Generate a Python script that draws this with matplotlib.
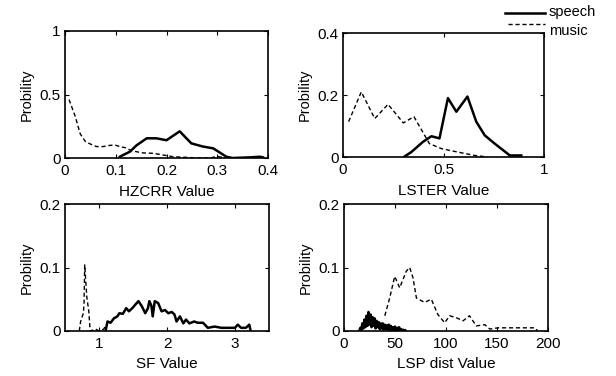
import matplotlib
matplotlib.use("Agg")
import matplotlib.pyplot as plt
from matplotlib.lines import Line2D

plt.rcParams['font.family'] = ['Liberation Sans', 'DejaVu Sans']
plt.rcParams['font.size'] = 11

# ---------------- data ----------------
# HZCRR
hz_music_x = [0.008, 0.02, 0.03, 0.04, 0.05, 0.062, 0.075, 0.089, 0.1, 0.108, 0.12, 0.128, 0.14, 0.154, 0.174, 0.193, 0.213, 0.24, 0.26, 0.285, 0.3, 0.32]
hz_music_y = [0.46, 0.33, 0.19, 0.13, 0.11, 0.09, 0.09, 0.10, 0.10, 0.09, 0.08, 0.063, 0.05, 0.04, 0.037, 0.024, 0.01, 0.005, 0.0, 0.0, 0.012, 0.0]
hz_speech_x = [0.108, 0.128, 0.141, 0.161, 0.18, 0.2, 0.226, 0.249, 0.272, 0.292, 0.318, 0.33, 0.364, 0.384, 0.39]
hz_speech_y = [0.01, 0.05, 0.10, 0.155, 0.155, 0.14, 0.21, 0.115, 0.09, 0.076, 0.01, 0.0, 0.005, 0.01, 0.005]

# LSTER
ls_music_x = [0.028, 0.091, 0.158, 0.224, 0.30, 0.353, 0.43, 0.49, 0.57, 0.655, 0.72]
ls_music_y = [0.114, 0.21, 0.124, 0.17, 0.11, 0.13, 0.043, 0.027, 0.016, 0.005, 0.0]
ls_speech_x = [0.307, 0.34, 0.398, 0.44, 0.48, 0.522, 0.564, 0.619, 0.663, 0.705, 0.755, 0.83, 0.887]
ls_speech_y = [0.002, 0.016, 0.049, 0.067, 0.06, 0.19, 0.146, 0.195, 0.114, 0.07, 0.043, 0.005, 0.005]

# SF
sf_music_x = [0.71, 0.73, 0.77, 0.78, 0.79, 0.82, 0.85, 0.87, 0.95, 1.0, 1.07, 1.09]
sf_music_y = [0.0, 0.015, 0.028, 0.044, 0.104, 0.054, 0.031, 0.0, 0.003, 0.0, 0.003, 0.007]
sf_speech_x = [1.1, 1.125, 1.17, 1.22, 1.27, 1.3, 1.35, 1.4, 1.44, 1.49, 1.53, 1.58, 1.63, 1.68, 1.72,
               1.74, 1.77, 1.79, 1.82, 1.87, 1.92, 1.97, 2.02, 2.07, 2.11, 2.14, 2.19, 2.24, 2.28, 2.33,
               2.4, 2.45, 2.53, 2.6, 2.7, 2.8, 2.9, 3.0, 3.04, 3.09, 3.16, 3.21, 3.23]
sf_speech_y = [0.002, 0.015, 0.013, 0.02, 0.023, 0.028, 0.027, 0.036, 0.031, 0.036, 0.041, 0.047, 0.039, 0.028, 0.036,
               0.047, 0.04, 0.023, 0.047, 0.044, 0.031, 0.033, 0.028, 0.03, 0.026, 0.015, 0.023, 0.012, 0.018, 0.012,
               0.015, 0.013, 0.013, 0.005, 0.007, 0.005, 0.005, 0.005, 0.01, 0.005, 0.005, 0.01, 0.0]

# LSP dist
lsp_music_x = [40, 44.8, 49.7, 54.6, 61, 64.4, 67.6, 71, 79, 85.6, 92, 98.7, 103.6, 110, 116.7, 123, 129.7, 138, 143, 151, 161, 174, 187, 190]
lsp_music_y = [0.024, 0.052, 0.086, 0.068, 0.094, 0.10, 0.084, 0.052, 0.045, 0.05, 0.026, 0.013, 0.024, 0.021, 0.016, 0.024, 0.008, 0.01, 0.003, 0.005, 0.005, 0.005, 0.005, 0.0]
lsp_speech_x = [15, 16, 17, 18, 19, 20, 21, 22, 23, 24, 25, 26, 27, 28, 29, 30, 31, 32, 33, 34, 35, 36, 37, 38, 39,
                40, 41, 42, 43, 44, 45, 46, 47, 48, 49, 50, 51, 52, 53, 54, 55, 56, 57, 58, 59, 60]
lsp_speech_y = [0.0, 0.005, 0.002, 0.012, 0.004, 0.018, 0.006, 0.024, 0.008, 0.03, 0.01, 0.026, 0.006, 0.022, 0.008,
                0.02, 0.004, 0.016, 0.006, 0.014, 0.003, 0.012, 0.004, 0.012, 0.002, 0.01, 0.003, 0.009, 0.002, 0.01,
                0.002, 0.008, 0.001, 0.006, 0.002, 0.007, 0.001, 0.005, 0.001, 0.006, 0.001, 0.003, 0.0, 0.002, 0.0, 0.001]

panels = [
    dict(rect=[65/616, 1-158/376, 203/616, 127/376], mx=hz_music_x, my=hz_music_y, sx=hz_speech_x, sy=hz_speech_y,
         xlim=(0, 0.4), ylim=(0, 1), xt=[0, 0.1, 0.2, 0.3, 0.4], xtl=['0', '0.1', '0.2', '0.3', '0.4'],
         yt=[0, 0.5, 1], ytl=['0', '0.5', '1'], xl='HZCRR Value'),
    dict(rect=[343/616, 1-157/376, 201/616, 124/376], mx=ls_music_x, my=ls_music_y, sx=ls_speech_x, sy=ls_speech_y,
         xlim=(0, 1), ylim=(0, 0.4), xt=[0, 0.5, 1], xtl=['0', '0.5', '1'],
         yt=[0, 0.2, 0.4], ytl=['0', '0.2', '0.4'], xl='LSTER Value'),
    dict(rect=[65/616, 1-331/376, 204/616, 127/376], mx=sf_music_x, my=sf_music_y, sx=sf_speech_x, sy=sf_speech_y,
         xlim=(0.5, 3.5), ylim=(0, 0.2), xt=[1, 2, 3], xtl=['1', '2', '3'],
         yt=[0, 0.1, 0.2], ytl=['0', '0.1', '0.2'], xl='SF Value'),
    dict(rect=[344/616, 1-331/376, 204/616, 127/376], mx=lsp_music_x, my=lsp_music_y, sx=lsp_speech_x, sy=lsp_speech_y,
         xlim=(0, 200), ylim=(0, 0.2), xt=[0, 50, 100, 150, 200], xtl=['0', '50', '100', '150', '200'],
         yt=[0, 0.1, 0.2], ytl=['0', '0.1', '0.2'], xl='LSP dist Value'),
]

fig = plt.figure(figsize=(6.16, 3.76), dpi=100)
for p in panels:
    ax = fig.add_axes(p['rect'])
    ax.plot(p['mx'], p['my'], color='black', lw=1.0, linestyle=(0, (3, 2)))
    ax.plot(p['sx'], p['sy'], color='black', lw=1.8)
    ax.set_xlim(*p['xlim'])
    ax.set_ylim(*p['ylim'])
    ax.set_xticks(p['xt'])
    ax.set_xticklabels(p['xtl'])
    ax.set_yticks(p['yt'])
    ax.set_yticklabels(p['ytl'])
    ax.set_xlabel(p['xl'], fontsize=11, labelpad=5)
    ax.set_ylabel('Probility', fontsize=10.5, labelpad=4)
    ax.tick_params(direction='in', length=3, width=0.8, top=True, right=True, labelsize=11)
    ax.tick_params(axis='x', pad=4)
    ax.tick_params(axis='y', pad=3)
    for s in ax.spines.values():
        s.set_linewidth(1.2)

# legend drawn at top right
fig.add_artist(Line2D([505/616, 545/616], [1-13/376, 1-13/376], color='black', lw=1.8))
fig.add_artist(Line2D([508/616, 545/616], [1-24/376, 1-24/376], color='black', lw=1.0, linestyle=(0, (3, 2))))
fig.text(549/616, 1-12/376, 'speech', fontsize=10.5, va='center', ha='left')
fig.text(549/616, 1-31/376, 'music', fontsize=10.5, va='center', ha='left')

fig.savefig('out.png', dpi=100)
